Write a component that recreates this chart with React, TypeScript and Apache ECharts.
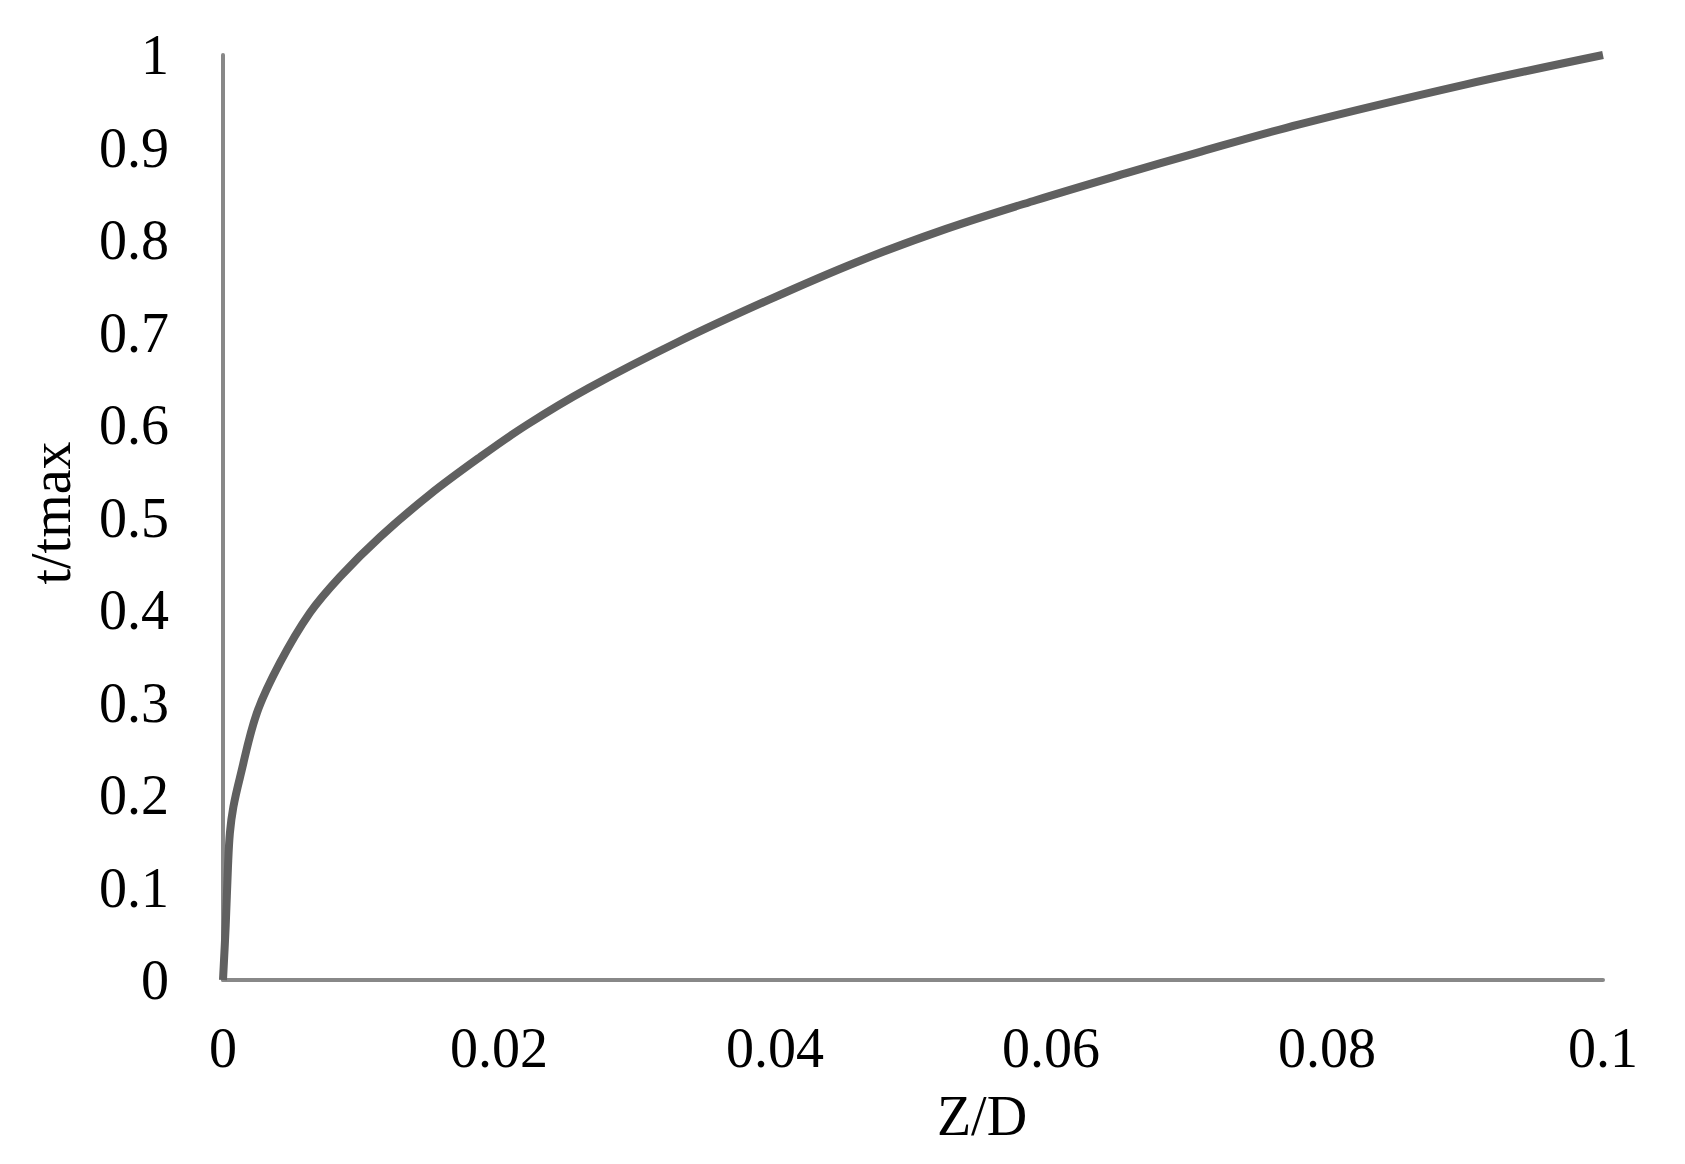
import React, { useEffect, useRef } from "react";
import * as echarts from "echarts";

const zOverD = [0, 0.0002, 0.00036, 0.0005, 0.00075, 0.00123, 0.00244, 0.00413, 0.0063, 0.00848, 0.01138, 0.015, 0.0186, 0.022, 0.0265, 0.033, 0.0395, 0.0459, 0.0524, 0.0589, 0.0654, 0.0705, 0.078, 0.09, 0.1];
const tOverTmax = [0, 0.06, 0.122, 0.159, 0.187, 0.219, 0.288, 0.343, 0.397, 0.436, 0.479, 0.525, 0.565, 0.6, 0.64, 0.69, 0.735, 0.776, 0.812, 0.843, 0.872, 0.894, 0.925, 0.968, 1.0];

const xName = "Z/D";
const yName = "t/tmax";

const FONT = "'Liberation Serif', 'Times New Roman', serif";

export default function App() {
  const ref = useRef<HTMLDivElement>(null);
  useEffect(() => {
    if (!ref.current) return;
    const chart = echarts.init(ref.current, null, { renderer: "svg" });
    const data = zOverD.map((z, i) => [z, tOverTmax[i]]);
    chart.setOption({
      animation: false,
      backgroundColor: "#ffffff",
      grid: { left: 223, right: 82, top: 55, bottom: 184, containLabel: false, outerBoundsMode: "none" },
      xAxis: {
        type: "value",
        min: 0,
        max: 0.1,
        interval: 0.02,
        axisLine: { show: true, onZero: false, lineStyle: { color: "#888888", width: 4 } },
        axisTick: { show: false },
        splitLine: { show: false },
        axisLabel: { color: "#000000", fontFamily: FONT, fontSize: 56, margin: 40 },
      },
      yAxis: {
        type: "value",
        min: 0,
        max: 1,
        interval: 0.1,
        axisLine: { show: true, onZero: false, lineStyle: { color: "#888888", width: 4 } },
        axisTick: { show: false },
        splitLine: { show: false },
        axisLabel: { color: "#000000", fontFamily: FONT, fontSize: 56, margin: 54 },
      },
      graphic: [
        {
          type: "text",
          x: 982,
          y: 1116,
          style: { text: xName, fill: "#000000", font: `56px ${FONT}`, textAlign: "center", textVerticalAlign: "middle" },
        },
        {
          type: "text",
          x: 51,
          y: 513,
          rotation: Math.PI / 2,
          style: { text: yName, fill: "#000000", font: `56px ${FONT}`, textAlign: "center", textVerticalAlign: "middle" },
        },
      ],
      series: [
        {
          type: "line",
          data,
          showSymbol: false,
          smooth: 0.35,
          lineStyle: { color: "#606060", width: 8 },
          itemStyle: { color: "#606060" },
        },
      ],
    });
    return () => chart.dispose();
  }, []);
  return <div ref={ref} style={{ position: "fixed", left: 0, top: 0, width: 1685, height: 1164 }} />;
}
